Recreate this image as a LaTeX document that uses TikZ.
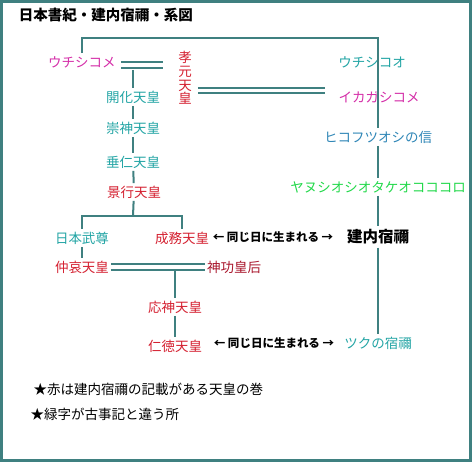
\documentclass[tikz,border=0pt]{standalone}
\usepackage{fontspec}
\setmainfont{Noto Sans CJK JP}
\definecolor{lineteal}{HTML}{3F8080}
\definecolor{tealtxt}{HTML}{22A4A4}
\definecolor{magtxt}{HTML}{D42EA8}
\definecolor{redtxt}{HTML}{D42030}
\definecolor{dredtxt}{HTML}{A8142A}
\definecolor{bluetxt}{HTML}{2F86B6}
\definecolor{greentxt}{HTML}{22D84A}

\begin{document}
\begin{tikzpicture}[x=1pt,y=-1pt,
    lbl/.style={inner sep=2pt,font=\fontsize{13.5}{16}\selectfont,text height=11.9pt,text depth=1.6pt},
    kin/.style={draw=lineteal,line width=2pt},
    fufu/.style={draw=lineteal,line width=2pt,double=white,double distance=3.5pt}]
      \useasboundingbox (0,0) rectangle (472,462);
      \draw[lineteal,line width=3pt] (1.5,1.5) rectangle (470.5,460.5);
      \node[font=\bfseries\fontsize{14.5}{17}\selectfont] (title) at (106,15)
        {日本書紀・建内宿禰・系図};
      % left column
      \node[lbl,magtxt] (uchishikome) at (82,62) {ウチシコメ};
      \node[redtxt,align=center,inner sep=2pt,font=\fontsize{13.5}{13.8}\selectfont]
        (kougen) at (185,78) {孝\\元\\天\\皇};
      \node[lbl,tealtxt] (kaika) at (133,97) {開化天皇};
      \node[lbl,tealtxt] (sujin) at (133,128) {崇神天皇};
      \node[lbl,tealtxt] (suinin) at (133,162) {垂仁天皇};
      \node[lbl,redtxt] (keikou) at (134,192) {景行天皇};
      \node[lbl,tealtxt] (yamato) at (82,238) {日本武尊};
      \node[lbl,redtxt] (seimu) at (182,238) {成務天皇};
      \node[lbl,redtxt] (chuai) at (82,267) {仲哀天皇};
      \node[lbl,dredtxt] (jingu) at (234,267) {神功皇后};
      \node[lbl,redtxt] (oujin) at (175,307) {応神天皇};
      \node[lbl,redtxt] (nintoku) at (175,346) {仁徳天皇};
      % right column
      \node[lbl,tealtxt] (uchishikoo) at (372,62) {ウチシコオ};
      \node[lbl,magtxt] (ikagashikome) at (379,97) {イカガシコメ};
      \node[lbl,bluetxt] (hikofutsu) at (378,137) {ヒコフツオシの信};
      \node[lbl,greentxt] (yanushi) at (378,187) {ヤヌシオシオタケオコココロ};
      \node[inner sep=3pt,font=\bfseries\fontsize{15.5}{18}\selectfont] (takeuchi) at (378,237) {建内宿禰};
      \node[lbl,tealtxt] (tsuku) at (378,343) {ツクの宿禰};
      % same day notes
      \node[font=\bfseries\fontsize{11.5}{13}\selectfont] (onaji1) at (273,237) {← 同じ日に生まれる →};
      \node[font=\bfseries\fontsize{11.5}{13}\selectfont] (onaji2) at (274,343) {← 同じ日に生まれる →};
      % notes
      \node[anchor=west,font=\fontsize{13.5}{16}\selectfont] (note1) at (30,389)
        {★赤は建内宿禰の記載がある天皇の巻};
      \node[anchor=west,font=\fontsize{13.5}{16}\selectfont] (note2) at (27,414)
        {★緑字が古事記と違う所};
      % lines
      \coordinate (top) at (378,38);
      \coordinate (y1) at (0,65);
      \coordinate (y2) at (0,90.5);
      \coordinate (m1) at (133,70);
      \coordinate (fork) at (133,216);
      \coordinate (m3) at (175,271);
      \draw[kin] (uchishikome.north) |- (top) -- (hikofutsu.north);
      \draw[kin] (hikofutsu) -- (yanushi);
      \draw[kin] (yanushi) -- (takeuchi);
      \draw[kin] (takeuchi) -- (tsuku);
      \draw[fufu,shorten <=3pt,shorten >=13pt] (uchishikome.east |- y1) -- (kougen.west |- y1);
      \draw[fufu,shorten <=4pt,shorten >=11pt] (kougen.east |- y2) -- (ikagashikome.west |- y2);
      \draw[kin] (m1) -- (kaika);
      \draw[kin] (kaika) -- (sujin);
      \draw[kin] (sujin) -- (suinin);
      \draw[kin] (suinin) -- (keikou);
      \draw[kin] (keikou) -- (fork);
      \draw[kin] (yamato) |- (fork) -| (seimu);
      \draw[kin] (yamato) -- (chuai);
      \draw[fufu] (chuai) -- (jingu);
      \draw[kin] (m3) -- (oujin);
      \draw[kin] (oujin) -- (nintoku);
    \end{tikzpicture}
\end{document}
